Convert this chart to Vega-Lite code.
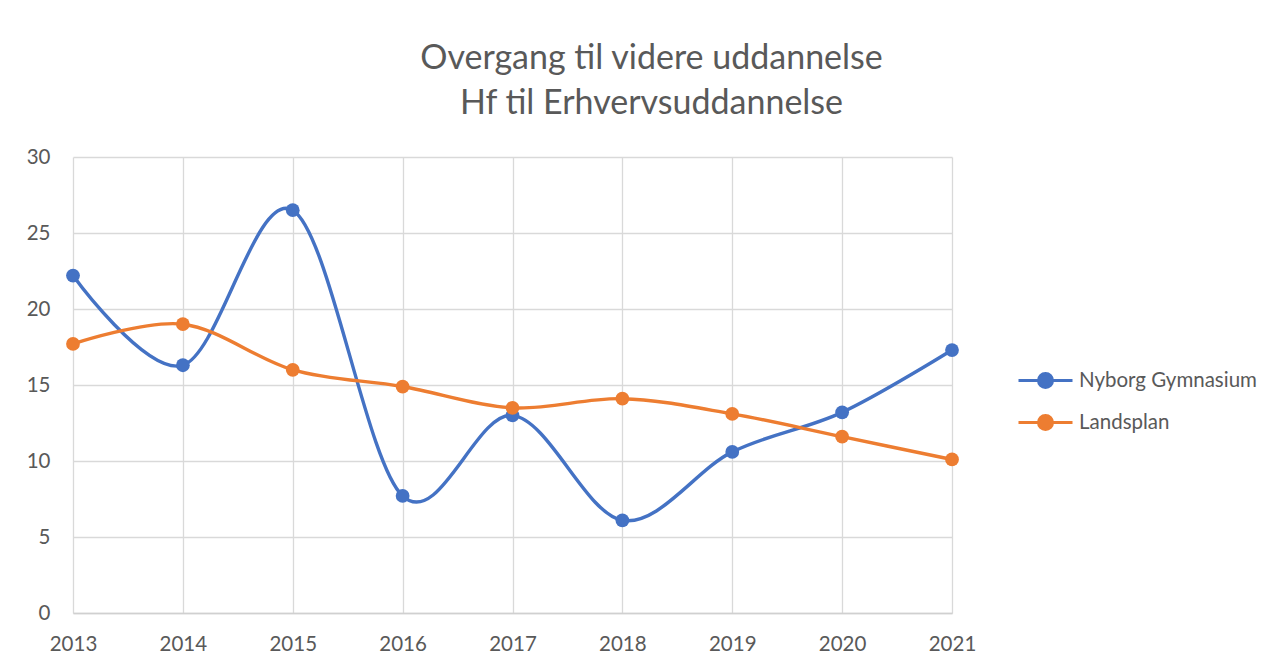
{
  "$schema": "https://vega.github.io/schema/vega-lite/v6.json",
  "autosize": {"type": "none"},
  "width": 879,
  "height": 456,
  "padding": {"left": 73, "top": 157, "right": 333, "bottom": 55},
  "background": "white",
  "title": {
    "text": ["Overgang til videre uddannelse", "Hf til Erhvervsuddannelse"],
    "font": "Lato",
    "fontSize": 34,
    "fontWeight": "normal",
    "color": "#595959",
    "lineHeight": 45,
    "anchor": "middle",
    "dx": 139,
    "offset": 26
  },
  "data": {
    "values": [
      {"year": "2013", "series": "Nyborg Gymnasium", "value": 22.2},
      {"year": "2014", "series": "Nyborg Gymnasium", "value": 16.3},
      {"year": "2015", "series": "Nyborg Gymnasium", "value": 26.5},
      {"year": "2016", "series": "Nyborg Gymnasium", "value": 7.7},
      {"year": "2017", "series": "Nyborg Gymnasium", "value": 13.0},
      {"year": "2018", "series": "Nyborg Gymnasium", "value": 6.1},
      {"year": "2019", "series": "Nyborg Gymnasium", "value": 10.6},
      {"year": "2020", "series": "Nyborg Gymnasium", "value": 13.2},
      {"year": "2021", "series": "Nyborg Gymnasium", "value": 17.3},
      {"year": "2013", "series": "Landsplan", "value": 17.7},
      {"year": "2014", "series": "Landsplan", "value": 19.0},
      {"year": "2015", "series": "Landsplan", "value": 16.0},
      {"year": "2016", "series": "Landsplan", "value": 14.9},
      {"year": "2017", "series": "Landsplan", "value": 13.5},
      {"year": "2018", "series": "Landsplan", "value": 14.1},
      {"year": "2019", "series": "Landsplan", "value": 13.1},
      {"year": "2020", "series": "Landsplan", "value": 11.6},
      {"year": "2021", "series": "Landsplan", "value": 10.1}
    ]
  },
  "encoding": {
    "x": {
      "field": "year",
      "type": "ordinal",
      "scale": {"type": "point", "padding": 0},
      "axis": {
        "title": null,
        "labelAngle": 0,
        "grid": true,
        "gridColor": "#d9d9d9",
        "gridWidth": 1.3,
        "domain": true,
        "domainColor": "#d0d0d0",
        "domainWidth": 1.3,
        "ticks": false,
        "labelPadding": 21,
        "labelBaseline": "top",
        "labelFont": "Lato",
        "labelFontSize": 20.5,
        "labelColor": "#595959"
      }
    },
    "y": {
      "field": "value",
      "type": "quantitative",
      "scale": {"domain": [0, 30], "nice": false},
      "axis": {
        "title": null,
        "values": [0, 5, 10, 15, 20, 25, 30],
        "grid": true,
        "gridColor": "#d9d9d9",
        "gridWidth": 1.3,
        "domain": false,
        "ticks": false,
        "labelPadding": 23,
        "labelFont": "Lato",
        "labelFontSize": 20.5,
        "labelColor": "#595959"
      }
    },
    "color": {
      "field": "series",
      "type": "nominal",
      "scale": {"domain": ["Nyborg Gymnasium", "Landsplan"], "range": ["#4472C4", "#ED7D31"]},
      "legend": {
        "title": null,
        "orient": "none",
        "legendX": 944,
        "legendY": 195,
        "padding": 0,
        "rowPadding": -8,
        "symbolType": "M-1,0H1M0.26,0A0.26,0.26 0 1,1 -0.26,0A0.26,0.26 0 1,1 0.26,0Z",
        "symbolSize": 2916,
        "symbolStrokeWidth": 3,
        "labelFont": "Lato",
        "labelFontSize": 20.5,
        "labelColor": "#595959",
        "labelOffset": 5,
        "labelLimit": 400,
        "encode": {
          "symbols": {"update": {"fill": {"scale": "color", "field": "value"}, "stroke": {"scale": "color", "field": "value"}}}
        }
      }
    }
  },
  "layer": [
    {"mark": {"type": "line", "interpolate": "cardinal", "tension": 0, "strokeWidth": 3.4}},
    {"mark": {"type": "point", "filled": true, "opacity": 1, "size": 190}, "encoding": {"color": {"field": "series", "type": "nominal", "legend": null}}}
  ],
  "config": {"view": {"stroke": null}}
}
